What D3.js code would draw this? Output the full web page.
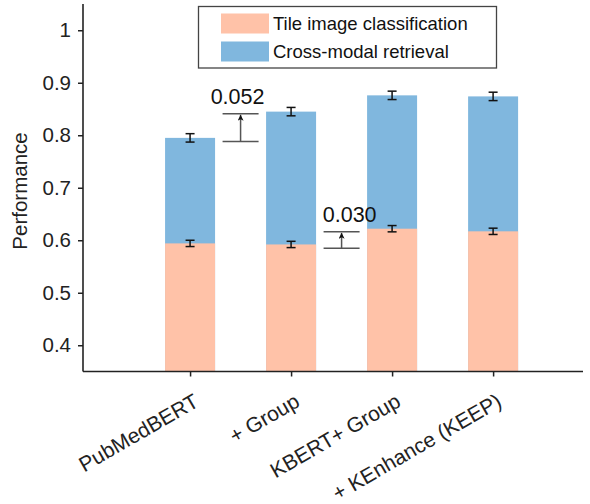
<!DOCTYPE html>
<html><head><meta charset="utf-8">
<script src="https://cdn.jsdelivr.net/npm/d3@7"></script>
<style>
body{margin:0;background:#fff;}
svg{display:block;font-family:Arial,"Liberation Sans",sans-serif;}
</style></head>
<body><svg id="c" width="590" height="504"></svg>
<script>
const categories = ["PubMedBERT", "+ Group", "KBERT+ Group", "+ KEnhance (KEEP)"];
const tileValues = [0.594, 0.592, 0.622, 0.617];
const tileErrors = [0.006, 0.006, 0.006, 0.006];
const retrievalValues = [0.795, 0.845, 0.876, 0.874];
const retrievalErrors = [0.008, 0.008, 0.008, 0.008];
const yTicks = [0.4, 0.5, 0.6, 0.7, 0.8, 0.9, 1];
const seriesNames = ["Tile image classification", "Cross-modal retrieval"];
const gainPos = [0.5, 1.5];
const gainLow = [0.788, 0.585];
const gainHigh = [0.841, 0.616];
const gainLabels = ["0.052", "0.030"];
const gainLabelPos = [0.47, 1.58];

(function () {
const colors = ["#FFC2A8", "#80B7DE"];
const svg = d3.select("#c");
const mLeft = 83, mRight = 583, mTop = 4, mBottom = 371.5;
const x = d3.scaleLinear().domain([-1.06, 3.89]).range([mLeft, mRight]);
const y = d3.scaleLinear().domain([0.35, 1.05]).range([mBottom, mTop]);
const barW = 50;
const ink = "#222";

const series = [
  {vals: retrievalValues, errs: retrievalErrors, color: colors[1]},
  {vals: tileValues, errs: tileErrors, color: colors[0]}
];
series.forEach(s => {
  svg.append("g").selectAll("rect").data(s.vals).join("rect")
    .attr("x", (d, i) => x(i) - barW / 2)
    .attr("width", barW)
    .attr("y", d => y(d))
    .attr("height", d => mBottom - y(d))
    .attr("fill", s.color);
});
series.forEach(s => {
  const g = svg.append("g").attr("stroke", "#111").attr("stroke-width", 1.5);
  s.vals.forEach((v, i) => {
    const cx = x(i), lo = y(v - s.errs[i]), hi = y(v + s.errs[i]);
    g.append("line").attr("x1", cx).attr("x2", cx).attr("y1", lo).attr("y2", hi);
    g.append("line").attr("x1", cx - 4.5).attr("x2", cx + 4.5).attr("y1", lo).attr("y2", lo);
    g.append("line").attr("x1", cx - 4.5).attr("x2", cx + 4.5).attr("y1", hi).attr("y2", hi);
  });
});

const yAxis = d3.axisLeft(y).tickValues(yTicks).tickSize(5).tickPadding(7)
  .tickFormat(d => d === 1 ? "1" : d3.format(".1f")(d));
const gy = svg.append("g").attr("transform", `translate(${mLeft},0)`).call(yAxis);
gy.select(".domain").attr("d", `M0,${mTop}V${mBottom}`);
const xAxis = d3.axisBottom(x).tickValues(d3.range(categories.length)).tickSize(5).tickFormat("");
const gx = svg.append("g").attr("transform", `translate(0,${mBottom})`).call(xAxis);
gx.select(".domain").attr("d", `M${mLeft},0H${mRight}`);
[gy, gx].forEach(g => {
  g.selectAll(".domain").attr("stroke", ink).attr("stroke-width", 1.6);
  g.selectAll(".tick line").attr("stroke", ink).attr("stroke-width", 1.5);
});
gy.selectAll(".tick text").attr("font-size", 20.5).attr("fill", "#222")
  .attr("font-family", "Arial, 'Liberation Sans', sans-serif");

svg.append("g").selectAll("text").data(categories).join("text")
  .attr("transform", (d, i) => `translate(${x(i) + 10},${mBottom + 34}) rotate(-30)`)
  .attr("text-anchor", "end")
  .attr("font-size", 21).attr("fill", "#222")
  .text(d => d);

svg.append("text")
  .attr("transform", `translate(27,191) rotate(-90)`)
  .attr("text-anchor", "middle").attr("font-size", 20.5).attr("fill", "#222")
  .text("Performance");

svg.append("defs").append("marker").attr("id", "arr")
  .attr("viewBox", "0 0 10 10").attr("refX", 10).attr("refY", 5)
  .attr("markerWidth", 8).attr("markerHeight", 6).attr("markerUnits", "userSpaceOnUse")
  .attr("orient", "auto")
  .append("path").attr("d", "M0,0L10,5L0,10L2.5,5Z").attr("fill", "#111");
gainPos.forEach((p, i) => {
  const cx = x(p), hw = 18;
  const g = svg.append("g").attr("stroke", "#555").attr("stroke-width", 1.5);
  g.append("line").attr("x1", cx - hw).attr("x2", cx + hw).attr("y1", y(gainLow[i])).attr("y2", y(gainLow[i]));
  g.append("line").attr("x1", cx - hw).attr("x2", cx + hw).attr("y1", y(gainHigh[i])).attr("y2", y(gainHigh[i]));
  g.append("line").attr("x1", cx).attr("x2", cx).attr("y1", y(gainLow[i])).attr("y2", y(gainHigh[i]) + 1)
    .attr("marker-end", "url(#arr)");
  svg.append("text").attr("x", x(gainLabelPos[i])).attr("y", y(gainHigh[i]) - 10)
    .attr("text-anchor", "middle").attr("font-size", 21.5).attr("fill", "#111")
    .text(gainLabels[i]);
});

const lg = svg.append("g");
lg.append("rect").attr("x", 198.5).attr("y", 6.5).attr("width", 298).attr("height", 61.5)
  .attr("fill", "#fff").attr("stroke", "#444").attr("stroke-width", 1.3);
seriesNames.forEach((n, i) => {
  lg.append("rect").attr("x", 221).attr("y", 13.5 + i * 28).attr("width", 48).attr("height", 20)
    .attr("fill", colors[i]);
  lg.append("text").attr("x", 273).attr("y", 30 + i * 28).attr("font-size", 18.5).attr("fill", "#111")
    .text(n);
});
})();
</script></body></html>
